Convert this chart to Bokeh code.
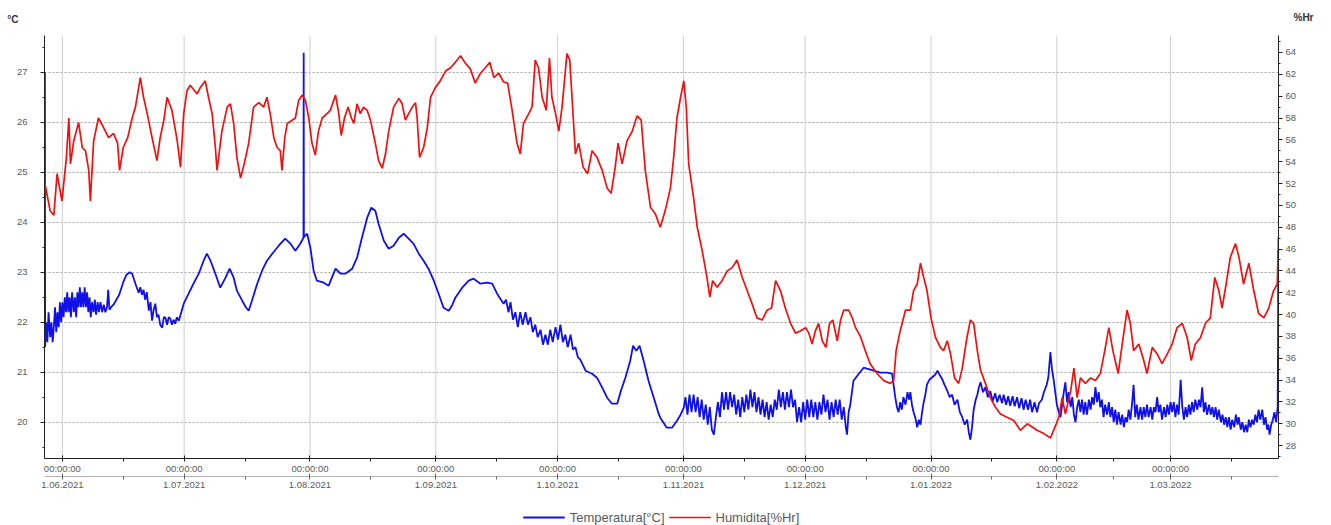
from bokeh.plotting import figure
from bokeh.layouts import column
from bokeh.models import (Range1d, LinearAxis, FixedTicker, Grid, Legend,
                          LegendItem, ColumnDataSource)
from bokeh.embed import file_html
from bokeh.resources import INLINE

# ---------------- data (x = days since 1.06.2021) ----------------
month_start_days = [0, 30, 61, 92, 122, 153, 183, 214, 245, 273]
month_mid_days = [-15, 15, 45, 76, 107, 137, 168, 198, 229, 259, 288]
time_labels = ["00:00:00"] * 10
date_labels = ["1.06.2021", "1.07.2021", "1.08.2021", "1.09.2021", "1.10.2021",
               "1.11.2021", "1.12.2021", "1.01.2022", "1.02.2022", "1.03.2022"]
temp_ticks = [20, 21, 22, 23, 24, 25, 26, 27]
temp_minor = [19.5, 20.5, 21.5, 22.5, 23.5, 24.5, 25.5, 26.5, 27.5]
hum_ticks = [28, 30, 32, 34, 36, 38, 40, 42, 44, 46, 48, 50, 52, 54, 56, 58, 60, 62, 64]
hum_minor = [27, 29, 31, 33, 35, 37, 39, 41, 43, 45, 47, 49, 51, 53, 55, 57, 59, 61, 63, 65]
unit_labels = ["°C", "%Hr"]
series_names = ["Temperatura[°C]", "Humidita[%Hr]"]

temperature = [
    (-4.3, 27.0), (-4.25, 21.5), (-4.0, 22.0), (-3.7, 21.6), (-3.4, 22.2), (-3.0, 21.7), (-2.7, 22.0),
    (-2.4, 21.6), (-2.1, 21.9), (-1.8, 22.3), (-1.5, 21.8), (-1.2, 22.2), (-0.9, 21.9), (-0.6, 22.4),
    (-0.3, 22.0), (0.0, 22.4), (0.3, 22.1), (0.6, 22.5), (0.9, 22.2), (1.2, 22.6), (1.5, 22.2),
    (1.8, 22.5), (2.1, 22.1), (2.4, 22.6), (2.8, 22.2), (3.1, 22.5), (3.4, 22.1), (3.7, 22.6),
    (4.0, 22.3), (4.3, 22.7), (4.6, 22.3), (4.9, 22.6), (5.2, 22.3), (5.5, 22.7), (5.8, 22.3),
    (6.1, 22.6), (6.4, 22.2), (6.7, 22.5), (7.0, 22.1), (7.3, 22.4), (7.7, 22.2), (8.0, 22.45),
    (8.3, 22.15), (8.7, 22.4), (9.0, 22.2), (9.4, 22.4), (9.8, 22.2), (10.2, 22.35), (10.6, 22.2),
    (11.0, 22.3), (11.3, 22.65), (11.6, 22.25), (12.0, 22.3), (12.6, 22.35), (13.3, 22.45),
    (14.0, 22.55), (15.0, 22.8), (15.8, 22.95), (16.6, 23.0), (17.2, 22.97), (18.0, 22.77),
    (18.8, 22.59), (19.2, 22.7), (19.6, 22.55), (20.0, 22.65), (20.4, 22.45), (20.8, 22.6),
    (21.3, 22.23), (21.7, 22.4), (22.1, 22.03), (22.5, 22.25), (22.9, 22.37), (23.3, 22.1),
    (23.7, 22.15), (24.1, 21.95), (24.6, 21.89), (25.0, 22.1), (25.4, 22.09), (25.8, 21.95),
    (26.2, 22.1), (26.6, 22.07), (27.0, 21.95), (27.4, 22.05), (27.8, 21.97), (28.2, 22.1),
    (28.7, 22.03), (29.3, 22.2), (29.9, 22.37), (31.1, 22.57), (32.3, 22.77), (33.6, 22.97),
    (34.8, 23.23), (35.6, 23.37), (36.5, 23.23), (37.7, 22.97), (38.9, 22.69), (40.2, 22.89),
    (41.2, 23.07), (42.2, 22.89), (43.0, 22.63), (44.3, 22.43), (45.2, 22.3), (45.9, 22.23),
    (46.7, 22.43), (48.0, 22.77), (49.2, 23.03), (50.4, 23.23), (51.7, 23.37), (53.3, 23.53),
    (54.9, 23.67), (56.2, 23.57), (57.4, 23.43), (58.6, 23.57), (59.4, 23.69), (59.45, 27.39),
    (59.5, 23.7), (60.3, 23.77), (61.1, 23.49), (61.9, 23.03), (62.7, 22.83), (64.4, 22.79),
    (65.6, 22.73), (66.4, 22.89), (67.3, 23.07), (68.5, 22.97), (69.7, 22.97), (71.4, 23.07),
    (72.6, 23.29), (73.8, 23.69), (75.1, 24.09), (76.1, 24.29), (77.1, 24.23), (77.9, 23.97),
    (79.2, 23.63), (80.4, 23.47), (81.6, 23.53), (82.9, 23.69), (84.1, 23.77), (85.3, 23.67),
    (86.5, 23.57), (87.8, 23.37), (89.0, 23.23), (90.2, 23.07), (91.5, 22.83), (92.7, 22.57),
    (93.9, 22.29), (95.2, 22.23), (96.1, 22.35), (96.8, 22.49), (98.5, 22.69), (100.1, 22.83),
    (101.3, 22.87), (103.0, 22.77), (104.6, 22.79), (105.9, 22.77), (107.1, 22.57), (108.7, 22.37),
    (109.3, 22.45), (109.9, 22.2), (110.4, 22.4), (111.0, 22.05), (111.6, 22.2), (112.2, 21.9),
    (112.8, 22.2), (113.4, 21.95), (114.1, 22.2), (114.7, 21.95), (115.3, 22.1), (115.9, 21.8),
    (116.5, 21.95), (117.1, 21.7), (117.8, 21.85), (118.4, 21.55), (119.0, 21.75), (119.6, 21.55),
    (120.2, 21.85), (120.8, 21.6), (121.5, 21.9), (122.1, 21.65), (122.7, 21.95), (123.3, 21.6),
    (123.9, 21.75), (124.5, 21.5), (125.2, 21.75), (125.8, 21.45), (126.4, 21.5), (127.0, 21.3),
    (127.6, 21.25), (128.9, 21.03), (130.5, 20.97), (131.7, 20.89), (133.0, 20.69), (134.2, 20.49),
    (135.4, 20.37), (136.7, 20.37), (137.6, 20.63), (138.7, 20.89), (139.9, 21.23), (140.6, 21.53),
    (141.4, 21.43), (142.2, 21.53), (143.2, 21.23), (144.4, 20.83), (145.7, 20.49), (146.9, 20.17),
    (147.3, 20.09), (148.9, 19.89), (150.2, 19.89), (151.4, 20.03), (152.3, 20.15),
    (153.1, 20.29), (153.5, 20.5), (154.0, 20.15), (154.5, 20.55), (155.0, 20.2), (155.5, 20.55),
    (156.0, 20.2), (156.5, 20.5), (157.0, 20.1), (157.5, 20.45), (158.0, 20.05), (158.5, 20.35),
    (159.0, 19.95), (159.5, 20.3), (160.0, 19.85), (160.5, 19.75), (161.0, 20.1), (161.5, 20.4),
    (162.0, 20.1), (162.5, 20.6), (163.0, 20.25), (163.5, 20.6), (164.0, 20.25), (164.5, 20.6),
    (165.0, 20.3), (165.5, 20.55), (166.0, 20.15), (166.5, 20.45), (167.0, 20.1), (167.5, 20.5),
    (168.0, 20.2), (168.5, 20.55), (169.0, 20.25), (169.5, 20.65), (170.0, 20.3), (170.5, 20.6),
    (171.0, 20.2), (171.5, 20.5), (172.0, 20.15), (172.5, 20.45), (173.0, 20.1), (173.5, 20.4),
    (174.0, 20.05), (174.5, 20.35), (175.0, 20.1), (175.5, 20.45), (176.0, 20.25), (176.5, 20.65),
    (177.0, 20.3), (177.5, 20.6), (178.0, 20.25), (178.5, 20.6), (179.0, 20.3), (179.5, 20.65),
    (180.0, 20.3), (180.5, 20.45), (181.0, 20.0), (181.5, 20.3), (182.0, 20.0), (182.5, 20.4),
    (183.0, 20.05), (183.5, 20.45), (184.0, 20.1), (184.5, 20.45), (185.0, 20.1), (185.5, 20.4),
    (186.0, 20.05), (186.5, 20.4), (187.0, 20.15), (187.5, 20.55), (188.0, 20.2), (188.5, 20.45),
    (189.0, 20.05), (189.5, 20.4), (190.0, 20.1), (190.5, 20.45), (191.0, 20.15), (191.5, 20.45),
    (192.0, 20.05), (192.5, 20.3), (193.0, 19.9), (193.3, 19.75), (193.7, 20.2), (194.1, 20.35),
    (194.9, 20.83), (196.2, 20.97), (197.4, 21.09), (198.2, 21.07), (199.9, 21.03), (201.5, 20.99),
    (203.2, 20.99), (204.4, 20.97), (205.2, 20.49), (205.6, 20.3), (206.0, 20.2), (206.4, 20.4),
    (206.8, 20.25), (207.2, 20.5), (207.7, 20.35), (208.2, 20.6), (208.6, 20.45), (208.9, 20.6),
    (209.3, 20.35), (209.7, 20.2), (210.1, 20.1), (210.6, 19.9), (211.0, 20.05), (211.4, 19.95),
    (211.8, 20.2), (212.2, 20.4), (212.6, 20.55), (213.0, 20.75), (213.6, 20.85), (214.3, 20.9),
    (215.0, 20.95), (215.6, 21.03), (216.1, 20.95), (216.7, 20.87), (217.3, 20.75), (218.0, 20.63),
    (218.6, 20.5), (219.2, 20.55), (219.8, 20.35), (220.5, 20.45), (221.1, 20.2), (221.7, 20.1),
    (222.3, 19.95), (222.9, 20.05), (223.3, 19.8), (223.7, 19.65), (224.1, 19.9), (224.5, 20.25),
    (225.0, 20.45), (225.4, 20.55), (225.8, 20.7), (226.2, 20.8), (226.8, 20.6), (227.4, 20.7),
    (228.0, 20.5), (228.6, 20.62), (229.2, 20.42), (229.8, 20.58), (230.3, 20.4), (230.9, 20.55),
    (231.5, 20.38), (231.9, 20.55), (232.5, 20.35), (233.0, 20.52), (233.5, 20.33), (234.1, 20.52),
    (234.6, 20.32), (235.2, 20.5), (235.7, 20.28), (236.3, 20.48), (236.8, 20.25), (237.3, 20.45),
    (237.9, 20.25), (238.4, 20.45), (238.9, 20.2), (239.5, 20.4), (240.1, 20.2), (240.6, 20.38),
    (241.3, 20.45), (241.8, 20.6), (242.5, 20.75), (242.9, 20.9), (243.4, 21.4), (243.8, 21.05),
    (244.2, 20.85), (244.6, 20.6), (245.0, 20.35), (245.5, 20.2), (245.9, 20.1), (246.3, 20.35),
    (246.7, 20.6), (247.1, 20.8), (247.5, 20.4), (247.9, 20.6), (248.4, 20.3), (248.8, 20.5),
    (249.2, 20.15), (249.6, 20.0), (250.0, 20.3), (250.4, 20.45), (250.8, 20.2), (251.2, 20.45),
    (251.6, 20.15), (252.0, 20.4), (252.4, 20.15), (252.9, 20.45), (253.3, 20.25), (253.7, 20.5),
    (254.1, 20.35), (254.5, 20.7), (254.9, 20.4), (255.3, 20.6), (255.7, 20.3), (256.1, 20.45),
    (256.5, 20.1), (256.9, 20.35), (257.4, 20.15), (257.8, 20.4), (258.2, 20.1), (258.6, 20.3),
    (259.0, 20.0), (259.4, 20.25), (259.8, 19.95), (260.2, 20.2), (260.7, 19.95), (261.1, 20.15),
    (261.5, 19.9), (261.9, 20.1), (262.3, 20.0), (262.7, 20.25), (263.1, 20.05), (263.5, 20.35),
    (263.9, 20.75), (264.3, 20.1), (264.7, 20.35), (265.1, 20.05), (265.6, 20.3), (266.0, 20.05),
    (266.4, 20.3), (266.8, 20.1), (267.2, 20.35), (267.6, 20.1), (268.1, 20.3), (268.5, 20.05),
    (268.9, 20.3), (269.3, 20.2), (269.7, 20.5), (270.1, 20.2), (270.5, 20.35), (270.9, 20.05),
    (271.4, 20.3), (271.8, 20.1), (272.2, 20.35), (272.6, 20.15), (273.0, 20.4), (273.4, 20.2),
    (273.8, 20.4), (274.2, 20.1), (274.6, 20.35), (275.0, 20.15), (275.5, 20.85), (275.9, 20.3),
    (276.3, 20.05), (276.7, 20.3), (277.1, 20.1), (277.5, 20.35), (277.9, 20.15), (278.3, 20.4),
    (278.7, 20.2), (279.1, 20.45), (279.6, 20.25), (280.0, 20.45), (280.4, 20.3), (280.8, 20.7),
    (281.2, 20.2), (281.6, 20.4), (282.0, 20.15), (282.5, 20.35), (282.9, 20.15), (283.3, 20.3),
    (283.7, 20.1), (284.1, 20.3), (284.5, 20.05), (284.9, 20.25), (285.4, 20.0), (285.8, 20.15),
    (286.2, 19.95), (286.6, 20.1), (287.0, 19.9), (287.4, 20.1), (287.8, 19.85), (288.2, 20.05),
    (288.7, 19.9), (289.1, 20.15), (289.5, 19.95), (289.8, 20.1), (290.3, 19.85), (290.7, 20.0),
    (291.1, 19.8), (291.5, 19.95), (291.9, 19.8), (292.3, 20.05), (292.7, 19.9), (293.1, 20.05),
    (293.5, 19.95), (293.9, 20.15), (294.3, 20.0), (294.7, 20.25), (295.1, 20.05), (295.6, 20.25),
    (296.0, 19.95), (296.4, 20.1), (296.8, 19.85), (297.1, 19.95), (297.4, 19.75), (297.8, 19.95),
    (298.2, 20.05), (298.6, 20.2), (299.0, 20.0), (299.4, 20.3), (299.6, 23.7),
]

humidity = [
    (-4.3, 52.0), (-3.0, 49.5), (-2.1, 49.1), (-1.3, 52.9), (-0.1, 50.4), (1.0, 54.4), (1.6, 58.0),
    (2.0, 53.8), (2.8, 55.9), (4.0, 57.6), (4.9, 55.3), (5.7, 55.0), (6.5, 53.2), (6.9, 50.4),
    (7.7, 55.9), (8.9, 58.0), (10.2, 57.1), (11.4, 56.2), (12.6, 56.6), (13.6, 55.7), (14.1, 53.2),
    (15.0, 55.3), (16.1, 56.2), (17.2, 58.0), (18.0, 59.0), (19.2, 61.7), (20.0, 59.9), (20.9, 58.4),
    (22.1, 56.2), (23.3, 54.1), (24.1, 56.2), (25.0, 57.8), (25.8, 59.9), (27.0, 58.7), (28.3, 55.9),
    (29.1, 53.5), (29.9, 58.4), (30.7, 60.5), (31.5, 61.0), (33.2, 60.2), (34.0, 60.8), (35.2, 61.4),
    (36.0, 59.9), (36.9, 58.4), (37.7, 55.3), (38.1, 53.2), (39.3, 56.8), (40.6, 59.0), (41.4, 59.3),
    (42.2, 57.5), (43.0, 54.4), (43.9, 52.5), (44.8, 53.8), (45.9, 55.7), (47.1, 59.0), (48.4, 59.4),
    (49.6, 59.0), (50.4, 59.9), (51.2, 58.4), (52.1, 56.2), (52.9, 55.3), (53.7, 55.0), (54.1, 53.2),
    (54.8, 56.2), (55.4, 57.5), (56.6, 57.8), (57.4, 58.0), (58.2, 59.6), (59.1, 60.1), (59.9, 59.6),
    (60.7, 58.0), (61.5, 55.7), (62.3, 54.6), (63.1, 56.8), (64.0, 58.0), (65.2, 58.4), (66.0, 58.7),
    (67.3, 60.1), (68.1, 58.4), (68.7, 56.4), (69.5, 58.0), (70.4, 59.0), (71.2, 58.0), (71.8, 57.5),
    (72.6, 59.3), (73.4, 58.4), (74.2, 59.0), (75.1, 58.7), (75.9, 57.8), (77.1, 55.7), (77.9, 54.1),
    (78.8, 53.4), (79.6, 54.7), (80.4, 56.8), (81.6, 59.0), (82.9, 59.8), (83.7, 59.3), (84.5, 57.8),
    (85.3, 58.4), (86.2, 59.0), (87.0, 59.4), (87.4, 58.0), (88.0, 54.4), (89.0, 55.3), (89.9, 57.1),
    (90.7, 59.9), (91.9, 60.8), (93.1, 61.4), (94.4, 62.3), (95.6, 62.6), (96.8, 63.1), (98.1, 63.7),
    (99.3, 63.0), (100.5, 62.5), (101.7, 61.2), (103.0, 62.1), (104.2, 62.6), (105.3, 63.1),
    (106.3, 61.7), (107.5, 62.1), (108.7, 61.3), (109.7, 61.2), (110.8, 58.7), (112.0, 55.7),
    (112.8, 54.7), (113.6, 57.5), (114.9, 58.4), (115.7, 59.0), (116.5, 63.3), (117.3, 62.6),
    (118.2, 59.9), (119.2, 58.7), (120.0, 63.5), (120.6, 59.9), (121.5, 58.4), (122.3, 56.8),
    (123.1, 59.0), (124.3, 63.9), (125.0, 63.3), (125.6, 59.6), (126.4, 54.7), (127.2, 55.7),
    (128.3, 53.5), (129.4, 52.9), (130.5, 55.0), (131.7, 54.4), (133.0, 53.2), (134.2, 51.6),
    (135.2, 51.1), (136.2, 53.5), (136.9, 55.7), (137.9, 53.8), (139.1, 55.9), (140.4, 56.8),
    (141.6, 58.2), (142.6, 57.8), (143.6, 53.2), (144.9, 49.8), (146.1, 49.2), (147.3, 48.0),
    (148.5, 49.5), (149.8, 51.6), (150.6, 54.4), (151.4, 58.0), (152.3, 59.9), (153.1, 61.4),
    (153.7, 59.0), (154.3, 53.8), (155.5, 50.7), (156.4, 48.0), (157.6, 45.9), (158.8, 43.4),
    (159.5, 41.6), (160.2, 43.1), (161.3, 42.5), (162.5, 43.1), (163.8, 44.0), (165.0, 44.3),
    (166.2, 45.0), (167.5, 43.4), (168.7, 42.2), (169.9, 41.0), (171.1, 39.7), (172.4, 39.5),
    (173.6, 40.4), (174.7, 40.6), (175.7, 43.1), (176.9, 42.2), (178.1, 40.6), (179.4, 39.2),
    (180.6, 38.3), (181.8, 38.5), (183.1, 38.8), (183.9, 38.3), (184.7, 37.3), (185.5, 38.5),
    (186.3, 39.2), (187.2, 37.6), (188.1, 37.0), (189.0, 39.2), (189.8, 39.5), (190.9, 37.6),
    (191.7, 39.5), (192.5, 40.4), (193.7, 40.4), (194.6, 39.7), (195.4, 38.8), (196.6, 38.0),
    (197.8, 36.7), (199.0, 35.5), (200.7, 34.6), (202.3, 33.96), (203.9, 33.7), (204.8, 33.96),
    (205.4, 36.7), (206.4, 38.5), (207.7, 40.4), (208.9, 40.4), (209.7, 42.2), (210.6, 42.8),
    (211.4, 44.7), (212.2, 43.4), (213.0, 42.2), (214.0, 39.7), (215.1, 37.9), (216.3, 37.0),
    (217.1, 36.7), (218.0, 37.6), (218.8, 36.4), (219.8, 34.2), (220.8, 33.7), (221.7, 35.1),
    (222.7, 37.6), (223.7, 39.5), (224.5, 39.2), (225.4, 36.7), (226.2, 34.9), (227.4, 33.7),
    (228.6, 32.4), (229.9, 31.5), (231.1, 30.9), (232.7, 30.6), (234.4, 30.3), (236.0, 29.4),
    (237.7, 30.0), (238.9, 29.7), (240.1, 29.4), (241.8, 29.1), (243.4, 28.7), (244.2, 29.4),
    (245.5, 30.6), (246.3, 32.4), (247.1, 30.9), (248.4, 33.0), (249.2, 35.1), (250.0, 32.4),
    (250.8, 34.2), (252.0, 33.7), (253.3, 34.2), (254.5, 33.96), (255.7, 34.6), (256.8, 36.7),
    (257.8, 38.8), (258.8, 36.7), (260.1, 34.6), (261.1, 37.3), (262.3, 40.4), (263.1, 39.2),
    (263.9, 36.7), (265.2, 37.3), (266.4, 35.8), (267.2, 34.6), (268.5, 37.0), (269.7, 36.4),
    (270.9, 35.5), (272.2, 36.4), (273.4, 37.3), (274.6, 38.8), (275.9, 39.2), (277.1, 37.9),
    (278.1, 35.8), (279.1, 37.3), (280.4, 37.9), (281.6, 39.2), (282.8, 39.7), (283.9, 43.4),
    (284.9, 42.2), (285.7, 40.6), (286.7, 42.8), (287.7, 45.2), (289.0, 46.5), (289.9, 45.2),
    (291.0, 42.8), (292.3, 44.7), (293.5, 42.2), (294.7, 40.1), (296.0, 39.7), (297.2, 40.6),
    (298.4, 42.2), (299.3, 42.8), (299.5, 45.9), (299.6, 36.4),
]

# ---------------- layout constants ----------------
FONT = "Liberation Sans"
TXT = "#5a5a5a"
T_COLOR, H_COLOR = "#1010e8", "#ee1111"
T_LO, T_HI, T_TOP = 19.274, 27.73, 28.434      # axis span and canvas top (°C)
H_LO, H_HI, H_TOP = 26.82, 65.55, 68.76        # axis span and canvas top (%Hr)
T_CAP, H_CAP = 28.05, 67.2                     # heights of the unit captions

p = figure(width=1331, height=509, output_backend="svg", toolbar_location=None,
           x_range=Range1d(-4.4, 299.6), y_range=Range1d(T_LO, T_TOP),
           x_axis_type=None, y_axis_type=None,
           min_border_left=44, min_border_right=53, min_border_top=0, min_border_bottom=51)
p.extra_y_ranges = {"hum": Range1d(H_LO, H_TOP)}
p.outline_line_color = None
p.background_fill_color = "white"
p.border_fill_color = "white"

p.segment(x0=month_start_days, y0=[T_LO] * len(month_start_days),
          x1=month_start_days, y1=[T_HI] * len(month_start_days),
          line_color="#cfcfcf", line_width=1)
p.add_layout(Grid(dimension=1, ticker=FixedTicker(ticks=temp_ticks),
                  grid_line_color="#a0a0a0", grid_line_dash="2 2", grid_line_width=1))


def style_axis(ax):
    ax.axis_line_color = "#222222"
    ax.major_tick_line_color = "#222222"
    ax.minor_tick_line_color = "#222222"
    ax.major_label_text_font = FONT
    ax.major_label_text_font_size = "9.5px"
    ax.major_label_text_color = TXT


def caption_axis(ax):
    ax.axis_line_color = None
    ax.major_tick_line_color = None
    ax.minor_tick_line_color = None
    ax.major_tick_out = 0
    ax.major_tick_in = 0
    ax.major_label_text_font = FONT
    ax.major_label_text_font_size = "10px"
    ax.major_label_text_font_style = "bold"
    ax.major_label_text_color = "#333333"


yl = LinearAxis(ticker=FixedTicker(ticks=temp_ticks, minor_ticks=temp_minor), bounds=(T_LO, T_HI))
style_axis(yl)
yl.major_tick_out = 4
yl.major_tick_in = 0
yl.minor_tick_out = 2
yl.minor_tick_in = 0
yl.major_label_standoff = 13
p.add_layout(yl, "left")

yl_cap = LinearAxis(ticker=FixedTicker(ticks=[T_CAP], minor_ticks=[]),
                    major_label_overrides={T_CAP: unit_labels[0]})
caption_axis(yl_cap)
yl_cap.major_label_standoff = -5
p.add_layout(yl_cap, "left")

yr = LinearAxis(y_range_name="hum", ticker=FixedTicker(ticks=hum_ticks, minor_ticks=hum_minor),
                bounds=(H_LO, H_HI))
style_axis(yr)
yr.major_tick_out = 4
yr.major_tick_in = 0
yr.minor_tick_out = 2
yr.minor_tick_in = 0
yr.major_label_standoff = 3
p.add_layout(yr, "right")

yr_cap = LinearAxis(y_range_name="hum", ticker=FixedTicker(ticks=[H_CAP], minor_ticks=[]),
                    major_label_overrides={H_CAP: unit_labels[1]})
caption_axis(yr_cap)
yr_cap.major_label_standoff = -6
p.add_layout(yr_cap, "right")

xa1 = LinearAxis(ticker=FixedTicker(ticks=month_start_days, minor_ticks=month_mid_days),
                 major_label_overrides=dict(zip(month_start_days, time_labels)))
style_axis(xa1)
xa1.major_tick_out = 3
xa1.major_tick_in = 3
xa1.minor_tick_out = 3
xa1.minor_tick_in = 0
xa1.major_label_standoff = 1
p.add_layout(xa1, "below")

xa2 = LinearAxis(ticker=FixedTicker(ticks=month_start_days, minor_ticks=month_mid_days),
                 major_label_overrides=dict(zip(month_start_days, date_labels)))
style_axis(xa2)
xa2.axis_line_color = "#b0b0b0"
xa2.major_tick_line_color = "#666666"
xa2.minor_tick_line_color = "#666666"
xa2.major_tick_out = 3
xa2.major_tick_in = 3
xa2.minor_tick_out = 3
xa2.minor_tick_in = 0
xa2.major_label_standoff = 2
p.add_layout(xa2, "below")

src_t = ColumnDataSource(dict(day=[d for d, _ in temperature], val=[v for _, v in temperature]))
src_h = ColumnDataSource(dict(day=[d for d, _ in humidity], val=[v for _, v in humidity]))
p.line("day", "val", source=src_t, line_color=T_COLOR, line_width=1.8)
p.line("day", "val", source=src_h, y_range_name="hum", line_color=H_COLOR, line_width=1.7)

# ---------------- legend strip below the chart ----------------
# The same two series are attached here only to give the legend its keys; the strip's
# value range lies far above the data, so nothing but the legend is visible in it.
foot = figure(width=1331, height=16, output_backend="svg", toolbar_location=None,
              x_range=p.x_range, y_range=Range1d(1000, 1001),
              x_axis_type=None, y_axis_type=None, min_border=0)
foot.outline_line_color = None
foot.background_fill_color = "white"
foot.border_fill_color = "white"
lt = foot.line("day", "val", source=src_t, line_color=T_COLOR, line_width=1.8)
lh = foot.line("day", "val", source=src_h, line_color=H_COLOR, line_width=1.7)
legend = Legend(items=[LegendItem(label=series_names[0], renderers=[lt]),
                       LegendItem(label=series_names[1], renderers=[lh])],
                orientation="horizontal", location="center",
                border_line_color=None, background_fill_alpha=0,
                label_text_font=FONT, label_text_font_size="13px", label_text_color=TXT,
                glyph_width=42, glyph_height=13, label_height=13, label_standoff=5,
                spacing=4, padding=0, margin=0)
foot.add_layout(legend)

layout = column(p, foot, spacing=0)
open("out.html", "w").write(file_html(layout, INLINE))
